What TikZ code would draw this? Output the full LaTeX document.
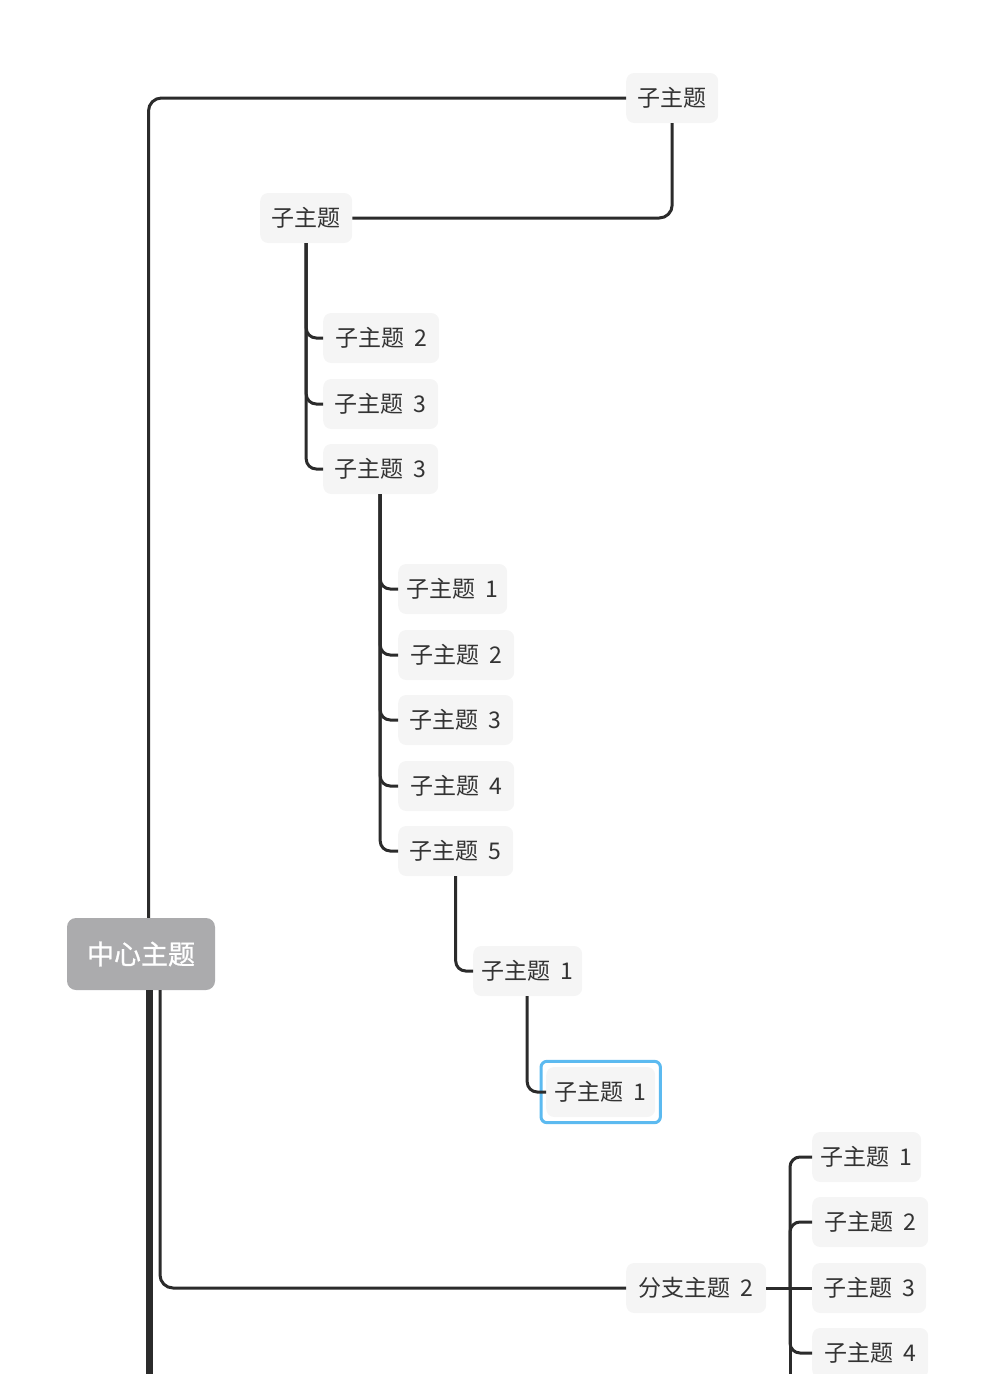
\documentclass[tikz,border=0pt]{standalone}
\usepackage{fontspec}
\newfontfamily\cjk{Noto Sans CJK SC}
\newfontfamily\cjkmed[BoldFont={Noto Sans CJK SC},BoldFeatures={FakeBold=0.9}]{Noto Sans CJK SC}
\definecolor{nodefill}{RGB}{245,245,245}
\definecolor{linec}{RGB}{43,43,43}
\definecolor{txt}{RGB}{51,51,51}
\definecolor{centerfill}{RGB}{171,171,173}
\definecolor{selblue}{RGB}{92,186,240}
\begin{document}
\begin{tikzpicture}[x=1pt,y=-1pt,
  topic/.style={fill=nodefill, rounded corners=8pt, text=txt, anchor=west,
    font=\cjk\fontsize{23}{27}\selectfont, inner xsep=0pt, inner ysep=0pt,
    minimum height=50pt, minimum width=#1},
  topic/.default=92pt,
  centertopic/.style={fill=centerfill, rounded corners=9pt, text=white,
    font=\cjkmed\bfseries\fontsize{27}{31}\selectfont, minimum width=148pt,
    minimum height=72pt},
  conn/.style={draw=linec, line width=3pt, rounded corners=10pt},
  bigconn/.style={draw=linec, line width=3pt, rounded corners=13pt},
  trunk/.style={draw=linec, line width=6.5pt},
  selbox/.style={draw=selblue, line width=3pt, rounded corners=6pt}
]
\useasboundingbox (0,0) rectangle (1006,1374);
\clip (0,0) rectangle (1006,1374);

% nodes
\node[centertopic] (c) at (141,954) {中心主题};
\node[topic] (t1) at (626,98) {子主题};
\node[topic] (t2) at (260,218) {子主题};
\node[topic=116pt] (a1) at (323,338) {子主题 \hspace{5pt}2};
\node[topic=115pt] (a2) at (323,404) {子主题 \hspace{5pt}3};
\node[topic=115pt] (a3) at (323,469) {子主题 \hspace{5pt}3};
\node[topic=109pt] (b1) at (398,589) {子主题 \hspace{5pt}1};
\node[topic=116pt] (b2) at (398,655) {子主题 \hspace{5pt}2};
\node[topic=115pt] (b3) at (398,720) {子主题 \hspace{5pt}3};
\node[topic=116pt] (b4) at (398,786) {子主题 \hspace{5pt}4};
\node[topic=115pt] (b5) at (398,851) {子主题 \hspace{5pt}5};
\node[topic=109pt] (d1) at (473,971) {子主题 \hspace{5pt}1};
\node[topic=109pt] (sel) at (546,1092) {子主题 \hspace{5pt}1};
\node[topic=140pt] (br) at (626,1288) {分支主题 \hspace{5pt}2};
\node[topic=109pt] (r1) at (812,1157) {子主题 \hspace{5pt}1};
\node[topic=116pt] (r2) at (812,1222) {子主题 \hspace{5pt}2};
\node[topic=114pt] (r3) at (812,1288) {子主题 \hspace{5pt}3};
\node[topic=116pt] (r4) at (812,1353) {子主题 \hspace{5pt}4};

% selection frame
\draw[selbox] ([shift={(-5,-5.5)}]sel.north west) rectangle ([shift={(5,5.5)}]sel.south east);

% connectors
\draw[bigconn] ([xshift=7.5pt]c.north) |- (t1.west);
\draw[bigconn] (t1.south) |- (t2.east);
\foreach \n in {a1,a2,a3} \draw[conn] (t2.south) |- (\n.west);
\foreach \n in {b1,b2,b3,b4,b5} \draw[conn] ([xshift=-0.5pt]a3.south) |- (\n.west);
\draw[conn] (b5.south) |- (d1.west);
\draw[conn] ([xshift=-0.5pt]d1.south) |- (sel.west);
\draw[trunk] ([xshift=8.5pt]c.south) -- ++(0,420);
\draw[bigconn] ([xshift=19pt]c.south) |- (br.west);
\coordinate (j) at (790,1288);
\draw[conn] (br.east) -- (r3.west);
\foreach \n in {r1,r2,r4} \draw[conn] (j) |- (\n.west);
\draw[conn] (j) -- (790,1400);
\end{tikzpicture}
\end{document}
